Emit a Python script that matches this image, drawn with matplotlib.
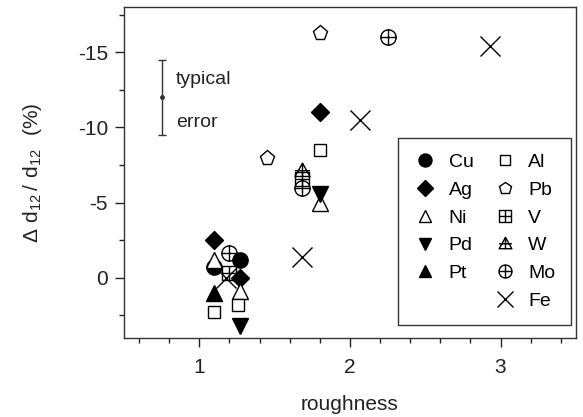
import numpy as np
import matplotlib
matplotlib.use('Agg')
import matplotlib.pyplot as plt
from matplotlib.path import Path
from matplotlib.lines import Line2D

plt.rcParams['font.family'] = ['Liberation Sans', 'DejaVu Sans']
plt.rcParams['mathtext.fontset'] = 'custom'
plt.rcParams['mathtext.rm'] = 'Liberation Sans'

# data: (roughness, delta d12/d12 in %)
cu_x = [1.10, 1.27]
cu_y = [-0.7, -1.2]
ag_x = [1.10, 1.27, 1.80]
ag_y = [-2.5, 0.0, -11.0]
ni_x = [1.10, 1.27, 1.80]
ni_y = [-1.2, 0.9, -5.0]
pd_x = [1.27, 1.80]
pd_y = [3.2, -5.6]
pt_x = [1.10]
pt_y = [1.0]
al_x = [1.10, 1.26, 1.80]
al_y = [2.25, 1.8, -8.5]
pb_x = [1.45, 1.80]
pb_y = [-8.0, -16.3]
v_x = [1.20, 1.68]
v_y = [-0.35, -6.6]
w_x = [1.68]
w_y = [-7.1]
mo_x = [1.20, 1.68, 2.25]
mo_y = [-1.65, -6.0, -16.0]
fe_x = [1.18, 1.68, 2.07, 2.93]
fe_y = [0.0, -1.4, -10.5, -15.4]

err_x, err_y, err_e = 0.75, -12.0, 2.5


def compound(*paths):
    return Path.make_compound_path(*paths)


plus = Path([(-1, 0), (1, 0), (0, -1), (0, 1)],
            [Path.MOVETO, Path.LINETO, Path.MOVETO, Path.LINETO])
square = Path([(-1, -1), (1, -1), (1, 1), (-1, 1), (-1, -1)],
              [Path.MOVETO, Path.LINETO, Path.LINETO, Path.LINETO, Path.CLOSEPOLY])
circle = Path.unit_circle()
tri = Path([(0, 1), (-0.9, -0.6), (0.9, -0.6), (0, 1)],
           [Path.MOVETO, Path.LINETO, Path.LINETO, Path.CLOSEPOLY])
tri_plus = Path([(-0.9, 0.1), (0.9, 0.1), (0, -0.6), (0, 1)],
                [Path.MOVETO, Path.LINETO, Path.MOVETO, Path.LINETO])

sq_plus = compound(square, plus)
circ_plus = compound(circle, plus)
w_mark = compound(tri, tri_plus)

series = [
    ('Cu', cu_x, cu_y, dict(marker='o', ms=11, mfc='black')),
    ('Ag', ag_x, ag_y, dict(marker='D', ms=9.5, mfc='black')),
    ('Ni', ni_x, ni_y, dict(marker='^', ms=11, mfc='white')),
    ('Pd', pd_x, pd_y, dict(marker='v', ms=11, mfc='black')),
    ('Pt', pt_x, pt_y, dict(marker='^', ms=11, mfc='black')),
    (None, [], [], dict(marker='None')),
    ('Al', al_x, al_y, dict(marker='s', ms=9, mfc='white')),
    ('Pb', pb_x, pb_y, dict(marker='p', ms=11, mfc='white')),
    ('V', v_x, v_y, dict(marker=sq_plus, ms=10, mfc='none')),
    ('W', w_x, w_y, dict(marker=w_mark, ms=12, mfc='none')),
    ('Mo', mo_x, mo_y, dict(marker=circ_plus, ms=11, mfc='none')),
    ('Fe', fe_x, fe_y, dict(marker='x', ms=14, mfc='none')),
]

fig = plt.figure(figsize=(5.83, 4.17), dpi=100)
ax = fig.add_axes([0.2127, 0.1894, 0.775, 0.7936])

handles = []
labels = []
for name, xs, ys, st in series:
    if name is None:
        handles.append(Line2D([], [], linestyle='None', marker='None'))
        labels.append('')
        continue
    ax.plot(xs, ys, linestyle='None', mec='black', mew=1.0, **st)
    leg_st = dict(st)
    leg_st['ms'] = st['ms'] * 0.85
    handles.append(Line2D([], [], linestyle='None', mec='black', mew=1.0, **leg_st))
    labels.append(name)

# typical error bar
ax.errorbar([err_x], [err_y], yerr=[err_e], fmt='o', ms=2.5, color='#333333',
            ecolor='#333333', elinewidth=1, capsize=3, capthick=1)
ax.text(0.845, -13.2, 'typical', fontsize=14, va='center', ha='left', color='#222222')
ax.text(0.845, -10.35, 'error', fontsize=14, va='center', ha='left', color='#222222')

ax.set_xlim(0.5, 3.5)
ax.set_ylim(4, -18)
ax.set_xticks([1, 2, 3])
ax.set_xticks(np.arange(0.6, 3.5, 0.2), minor=True)
ax.set_yticks([-15, -10, -5, 0])
ax.set_yticklabels(['-15', '-10', '-5', '0'])
ax.set_yticks([-17.5, -12.5, -7.5, -2.5, 2.5], minor=True)
ax.tick_params(which='both', direction='out', labelsize=15, colors='#222222')
ax.tick_params(which='major', length=6.5, width=1, pad=5)
ax.tick_params(which='minor', length=3.5, width=1)
ax.tick_params(axis='x', which='major', pad=8)
for s in ax.spines.values():
    s.set_color('#333333')
    s.set_linewidth(1.0)

ax.set_xlabel('roughness', fontsize=15, color='#222222', labelpad=13)
ax.set_ylabel(r'$\mathregular{\Delta\ d_{12}\,/\ d_{12}\ \ (\%)}$', fontsize=15,
              color='#222222', labelpad=24)

leg = ax.legend(handles, labels, ncol=2, loc='upper left',
                bbox_to_anchor=(0.607, 0.604), borderaxespad=0, fontsize=14,
                frameon=True, fancybox=False, edgecolor='#333333', framealpha=1,
                borderpad=0.8, labelspacing=0.52, handlelength=1.2,
                handletextpad=0.6, columnspacing=1.0)
leg.get_frame().set_linewidth(1.0)

fig.savefig('out.png', dpi=100)
